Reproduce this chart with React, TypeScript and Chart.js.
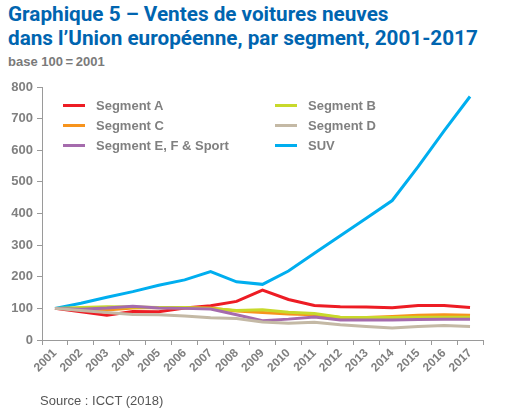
import React, { useEffect, useRef } from "react";
import { Chart, registerables } from "chart.js";

Chart.register(...registerables);

const years = ["2001","2002","2003","2004","2005","2006","2007","2008","2009","2010","2011","2012","2013","2014","2015","2016","2017"];
const segA = [100, 89, 78, 90, 89, 101, 108, 122, 158, 128, 109, 105, 104, 102, 109, 109, 103];
const segB = [100, 103, 105, 104, 103, 103, 100, 93, 96, 88, 84, 72, 71, 71, 72, 72, 72];
const segC = [100, 97, 95, 101, 103, 101, 101, 92, 87, 82, 80, 71, 71, 74, 78, 80, 78];
const segD = [100, 93, 87, 81, 80, 76, 70, 68, 57, 53, 56, 48, 43, 38, 43, 46, 43];
const segEF = [100, 97, 101, 107, 101, 100, 98, 80, 61, 66, 73, 63, 63, 63, 65, 66, 66];
const suv = [100, 116, 135, 153, 173, 190, 216, 184, 176, 218, 274, 330, 385, 441, 548, 661, 770];
const yTicks = [0, 100, 200, 300, 400, 500, 600, 700, 800];

const seriesNames = ["Segment A", "Segment B", "Segment C", "Segment D", "Segment E, F & Sport", "SUV"];
const seriesColors = ["#ED1C24", "#C8D92B", "#F7941D", "#C4B9A5", "#A56BAD", "#00AEEF"];
const seriesData = [segA, segB, segC, segD, segEF, suv];
// legend layout order: left column A, C, E/F ; right column B, D, SUV
const legendLeft = [0, 2, 4];
const legendRight = [1, 3, 5];

const GRAY = "#808080";

export default function App() {
  const ref = useRef<HTMLCanvasElement | null>(null);

  useEffect(() => {
    document.body.style.margin = "0";
    if (!ref.current) return;
    const drawOrder = [3, 4, 1, 2, 0, 5];
    const chart = new Chart(ref.current, {
      type: "line",
      data: {
        labels: years,
        datasets: drawOrder.map((i) => ({
          label: seriesNames[i],
          data: seriesData[i],
          borderColor: seriesColors[i],
          backgroundColor: seriesColors[i],
          borderWidth: 3,
          pointRadius: 0,
          tension: 0,
          fill: false,
        })),
      },
      options: {
        animation: false,
        responsive: false,
        maintainAspectRatio: false,
        layout: { padding: { left: 0, top: 87, right: 37, bottom: 39 } },
        plugins: { legend: { display: false }, tooltip: { enabled: false }, title: { display: false } },
        scales: {
          x: {
            type: "category",
            offset: true,
            afterFit: (s: any) => { s.height = 40; },
            border: { color: "#9a9a9a", width: 1 },
            grid: { offset: true, drawOnChartArea: false, drawTicks: true, tickLength: 5, color: "#9a9a9a" },
            ticks: {
              autoSkip: false,
              maxRotation: 45,
              minRotation: 45,
              padding: 1,
              color: GRAY,
              font: { family: "Liberation Sans, Arial, sans-serif", size: 12, weight: "bold" },
            },
          },
          y: {
            min: 0,
            max: 800,
            afterFit: (s: any) => { s.width = 42; },
            afterBuildTicks: (s: any) => { s.ticks = yTicks.map((v) => ({ value: v })); },
            border: { color: "#9a9a9a", width: 1 },
            grid: { drawOnChartArea: false, drawTicks: true, tickLength: 5, color: "#9a9a9a" },
            ticks: {
              padding: 4,
              color: GRAY,
              font: { family: "Liberation Sans, Arial, sans-serif", size: 13, weight: "bold" },
            },
          },
        },
      },
    });
    return () => chart.destroy();
  }, []);

  const legendItem = (i: number, left: number, top: number) => (
    <div key={i} style={{ position: "absolute", left, top, height: 20, display: "flex", alignItems: "center" }}>
      <div style={{ width: 22, height: 3, background: seriesColors[i], marginRight: 11 }} />
      <span style={{ color: GRAY, fontFamily: "Liberation Sans, Arial, sans-serif", fontWeight: "bold", fontSize: 13, whiteSpace: "nowrap" }}>
        {seriesNames[i]}
      </span>
    </div>
  );

  return (
    <div style={{ position: "relative", width: 520, height: 419, background: "#fff", overflow: "hidden" }}>
      <div style={{ position: "absolute", left: 8, top: 2, color: "#0065B0", fontFamily: "Roboto, sans-serif", fontWeight: 700, fontSize: 20.7, lineHeight: "24px", whiteSpace: "nowrap" }}>
        Graphique 5 – Ventes de voitures neuves
        <br />
        dans l’Union européenne, par segment, 2001-2017
      </div>
      <div style={{ position: "absolute", left: 8, top: 54, color: "#7a7a7a", fontFamily: "Liberation Sans, Arial, sans-serif", fontWeight: "bold", fontSize: 13, whiteSpace: "nowrap" }}>
        {"base 100\u2009=\u20092001"}
      </div>
      <canvas ref={ref} width={520} height={419} style={{ position: "absolute", left: 0, top: 0, width: 520, height: 419 }} />
      {legendLeft.map((i, k) => legendItem(i, 63, 95 + k * 20))}
      {legendRight.map((i, k) => legendItem(i, 275, 95 + k * 20))}
      <div style={{ position: "absolute", left: 40, top: 393, color: "#555", fontFamily: "Liberation Sans, Arial, sans-serif", fontSize: 13, whiteSpace: "nowrap" }}>
        Source : ICCT (2018)
      </div>
    </div>
  );
}
